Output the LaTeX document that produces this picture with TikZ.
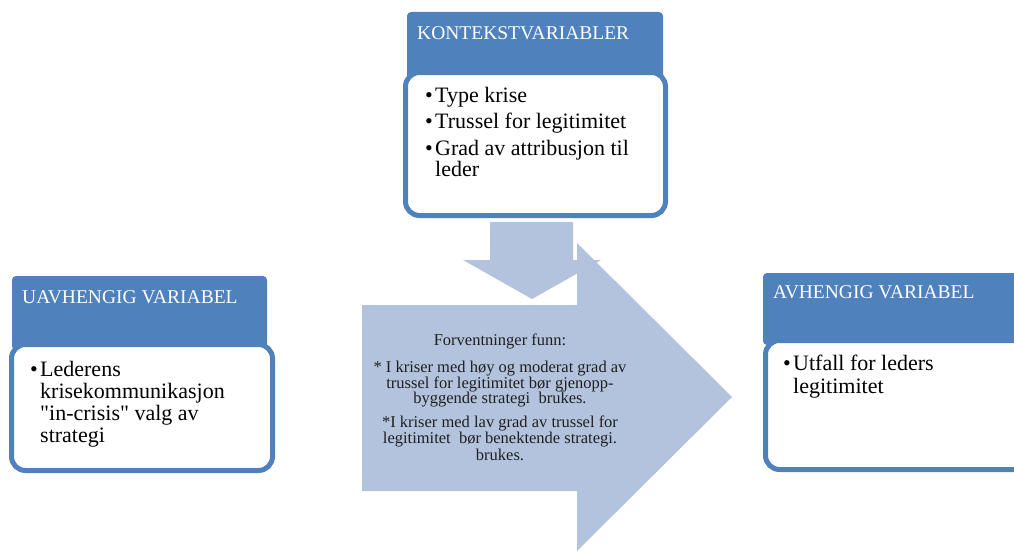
\documentclass[tikz,border=0pt]{standalone}
\usepackage{fontspec}
\setmainfont{Liberation Serif}[Ligatures=TeXOff]
\definecolor{hdrblue}{HTML}{4F81BD}
\definecolor{arrowblue}{RGB}{179,195,222}
\newcommand\myitem[1]{\makebox[10pt][l]{\textbullet}\begin{tabular}[t]{@{}l@{}}#1\end{tabular}}
\begin{document}
\begin{tikzpicture}[x=1pt,y=-1pt,
  hdr/.style={fill=hdrblue, rounded corners=4pt, inner sep=0pt},
  bodybox/.style={draw=hdrblue, fill=white, line width=5pt, rounded corners=14pt, inner sep=0pt},
  hdrtext/.style={anchor=base west, inner sep=0pt, text=white, font=\fontsize{19.5}{22}\selectfont},
  bodytext/.style={anchor=base west, inner sep=0pt, text=black, font=\fontsize{22}{21.5}\selectfont},
  arrowtext/.style={anchor=base, inner sep=0pt, text=black!88, font=\fontsize{16.5}{16.5}\selectfont}]
\clip (0,0) rectangle (1014,551);
\fill[white] (0,0) rectangle (1014,551);
% arrows
\fill[arrowblue] (490,222) -- (573,222) -- (573,260) -- (601,260) -- (532,299) -- (463,260) -- (490,260) -- cycle;
\fill[arrowblue] (362,305) -- (577,305) -- (577,243) -- (732,397) -- (577,551) -- (577,491) -- (362,491) -- cycle;
% kontekst
\node[hdr, minimum width=256pt, minimum height=78pt] (kh) at (535,51) {};
\node[bodybox, minimum width=260pt, minimum height=143pt] (kb) at (535.5,144) {};
\node[hdrtext] (kht) at (417,39.5) {KONTEKSTVARIABLER};
\node[bodytext] (k1) at (425,102) {\myitem{Type krise}};
\node[bodytext] (k2) at (425,128) {\myitem{Trussel for legitimitet}};
\node[bodytext] (k3) at (425,155) {\myitem{Grad av attribusjon til\\leder}};
% left
\node[hdr, minimum width=255pt, minimum height=74pt] (lh) at (139.5,313) {};
\node[bodybox, minimum width=261pt, minimum height=126pt] (lb) at (142,407.5) {};
\node[hdrtext] (lht) at (22,303) {UAVHENGIG VARIABEL};
\node[bodytext, font=\fontsize{22}{22.3}\selectfont] (l1) at (30,376) {\myitem{Lederens\\krisekommunikasjon\\"in-crisis" valg av\\strategi}};
% right
\node[hdr, minimum width=277pt, minimum height=72pt] (rh) at (901.5,309) {};
\node[bodybox, minimum width=274.5pt, minimum height=129pt] (rb) at (902.75,405) {};
\node[hdrtext] (rht) at (773,298) {AVHENGIG VARIABEL};
\node[bodytext, font=\fontsize{22}{23}\selectfont] (r1) at (783,370) {\myitem{Utfall for leders\\legitimitet}};
% arrow text
\node[arrowtext] (at) at (500,345) {\begin{tabular}[t]{@{}c@{}}Forventninger funn:\\[10.5pt]
* I kriser med høy og moderat grad av\\[-0.5pt]
trussel for legitimitet bør gjenopp-\\[-1.5pt]
byggende strategi\ \ brukes.\\[7.5pt]
*I kriser med lav grad av trussel for\\[-0.5pt]
legitimitet\ \ bør benektende strategi.\\[0.5pt]
brukes.\end{tabular}};
\end{tikzpicture}
\end{document}
